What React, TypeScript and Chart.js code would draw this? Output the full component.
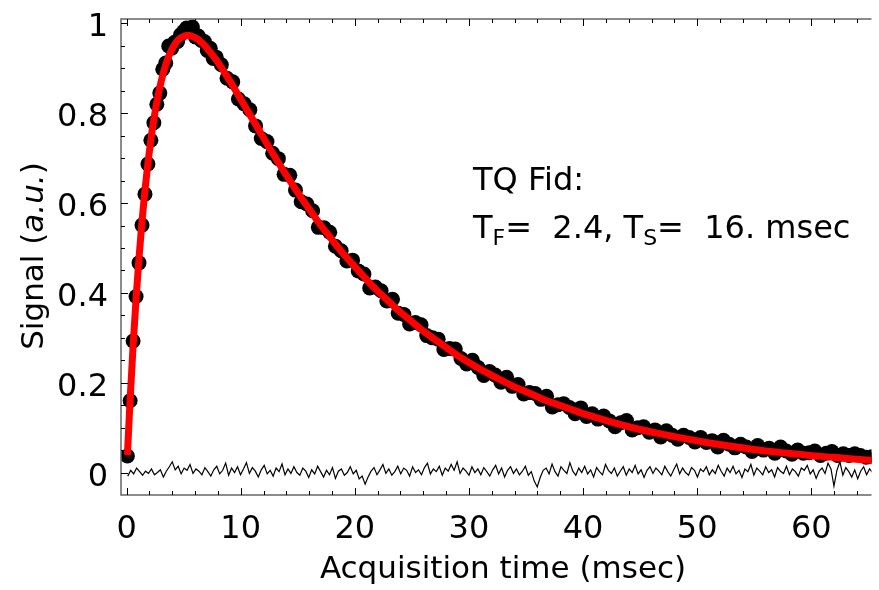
import React, { useEffect, useRef } from "react";
import { Chart, registerables } from "chart.js";

Chart.register(...registerables);

// Measured signal (black dots)
const sigT = [
  0.07, 0.31, 0.57, 0.83, 1.09, 1.35, 1.61, 1.87, 2.13, 2.39, 2.65, 2.91, 3.17, 3.43, 3.69, 3.95,
  4.21, 4.47, 4.73, 4.99, 5.25, 5.51, 5.77, 6.03, 6.29, 6.55, 6.81, 7.07, 7.33, 7.59, 7.85,
  8.3, 8.8, 9.3, 9.8, 10.3, 10.8, 11.3, 11.8, 12.3, 12.8, 13.3, 13.8, 14.3, 14.8, 15.3, 15.8,
  16.3, 16.8, 17.3, 17.8, 18.3, 18.8, 19.3, 19.8, 20.3, 20.8, 21.3, 21.8, 22.3, 22.8, 23.3, 23.8,
  24.3, 24.8, 25.3, 25.8, 26.3, 26.8, 27.3, 27.8, 28.3, 28.8, 29.3, 29.8, 30.3, 30.8, 31.3, 31.8,
  32.3, 32.8, 33.3, 33.8, 34.3, 34.8, 35.3, 35.8, 36.3, 36.8, 37.3, 37.8, 38.3, 38.8, 39.3, 39.8,
  40.3, 40.8, 41.3, 41.8, 42.3, 42.8, 43.3, 43.8, 44.3, 44.8, 45.3, 45.8, 46.3, 46.8, 47.3, 47.8,
  48.3, 48.8, 49.3, 49.8, 50.3, 50.8, 51.3, 51.8, 52.3, 52.8, 53.3, 53.8, 54.3, 54.8, 55.3, 55.8,
  56.3, 56.8, 57.3, 57.8, 58.3, 58.8, 59.3, 59.8, 60.3, 60.8, 61.3, 61.8, 62.3, 62.8, 63.3, 63.8,
  64.3, 64.8, 65.3,
];
const sigV = [
  0.037, 0.16, 0.293, 0.392, 0.467, 0.551, 0.62, 0.687, 0.74, 0.779, 0.82, 0.845, 0.898, 0.912, 0.95, 0.945,
  0.958, 0.96, 0.975, 0.982, 0.99, 0.985, 0.992, 0.97, 0.972, 0.962, 0.96, 0.94, 0.945, 0.922, 0.925,
  0.908, 0.878, 0.87, 0.832, 0.821, 0.808, 0.772, 0.744, 0.737, 0.711, 0.699, 0.664, 0.662, 0.629, 0.603, 0.598,
  0.583, 0.546, 0.545, 0.535, 0.504, 0.494, 0.471, 0.473, 0.449, 0.442, 0.411, 0.413, 0.405, 0.382, 0.386, 0.355,
  0.352, 0.331, 0.334, 0.329, 0.305, 0.3, 0.297, 0.274, 0.276, 0.275, 0.254, 0.242, 0.25, 0.234, 0.216, 0.225,
  0.217, 0.201, 0.212, 0.192, 0.196, 0.175, 0.178, 0.176, 0.163, 0.17, 0.146, 0.151, 0.153, 0.145, 0.131, 0.144,
  0.125, 0.131, 0.119, 0.126, 0.115, 0.102, 0.111, 0.116, 0.095, 0.1, 0.102, 0.09, 0.095, 0.079, 0.093, 0.083,
  0.074, 0.083, 0.078, 0.068, 0.078, 0.067, 0.071, 0.057, 0.072, 0.063, 0.055, 0.063, 0.057, 0.047, 0.06, 0.05,
  0.054, 0.043, 0.057, 0.048, 0.041, 0.05, 0.043, 0.044, 0.048, 0.038, 0.043, 0.047, 0.038, 0.042, 0.038, 0.042,
  0.038, 0.034, 0.035,
];

// Fit curve (red), TF = 2.4 ms, TS = 16 ms
const fitT = [
  0.07, 0.31, 0.57, 0.83, 1.09, 1.35, 1.61, 1.87, 2.13, 2.39, 2.65, 2.91, 3.17, 3.43, 3.69, 3.95,
  4.21, 4.47, 4.73, 4.99, 5.25, 5.51, 5.77, 6.03, 6.29, 6.55, 6.81, 7.07, 7.33, 7.59, 7.85,
  8.8, 9.8, 10.8, 11.8, 12.8, 13.8, 14.8, 15.8, 16.8, 17.8, 18.8, 19.8, 20.8, 21.8, 22.8, 23.8,
  24.8, 25.8, 26.8, 27.8, 28.8, 29.8, 30.8, 31.8, 32.8, 33.8, 34.8, 35.8, 36.8, 37.8, 38.8, 39.8,
  40.8, 42.8, 44.8, 46.8, 48.8, 50.8, 52.8, 54.8, 56.8, 58.8, 60.8, 62.8, 64.8, 65.3,
];
const fitV = [
  0.039, 0.163, 0.282, 0.387, 0.479, 0.559, 0.629, 0.689, 0.742, 0.787, 0.825, 0.858, 0.885, 0.908, 0.927, 0.941,
  0.953, 0.962, 0.968, 0.971, 0.973, 0.973, 0.971, 0.968, 0.964, 0.958, 0.952, 0.944, 0.936, 0.928, 0.919,
  0.882, 0.84, 0.797, 0.754, 0.711, 0.67, 0.631, 0.594, 0.558, 0.525, 0.493, 0.464, 0.436, 0.409, 0.385, 0.361,
  0.34, 0.319, 0.3, 0.282, 0.264, 0.248, 0.233, 0.219, 0.206, 0.193, 0.182, 0.171, 0.16, 0.151, 0.142, 0.133,
  0.125, 0.11, 0.097, 0.086, 0.076, 0.067, 0.059, 0.052, 0.046, 0.041, 0.036, 0.032, 0.028, 0.027,
];

// Noise baseline (thin black line), sampled every noiseStep ms from noiseStart
const noiseStart = 0.1;
const noiseStep = 0.26;
const noiseV = [
  -0.008, 0.005, -0.003, 0.01, 0.002, -0.006, 0.003, -0.002, 0.008, -0.005, 0.0, 0.006,
  -0.01, 0.003, 0.013, 0.024, 0.006, 0.014, -0.003, 0.01, 0.005, 0.018, -0.002, 0.008,
  0.003, -0.005, 0.011, 0.002, -0.008, 0.006, 0.014, -0.003, 0.005, 0.021, -0.006, 0.01,
  0.0, 0.013, -0.005, 0.008, 0.022, -0.002, 0.011, 0.003, -0.01, 0.006, 0.016, -0.003,
  0.005, -0.008, 0.01, 0.002, 0.019, -0.005, 0.008, -0.002, 0.013, 0.0, -0.006, 0.01,
  0.003, -0.011, 0.006, -0.003, 0.014, 0.002, -0.01, 0.005, -0.005, 0.011, -0.013, 0.003,
  0.008, -0.006, 0.0, 0.013, -0.003, 0.005, -0.014, -0.008, -0.026, -0.01, 0.003, 0.011,
  -0.005, 0.006, 0.018, -0.002, 0.008, -0.006, 0.002, 0.014, -0.003, 0.01, 0.005, -0.008,
  0.013, 0.0, 0.006, -0.005, 0.011, 0.021, -0.003, 0.008, 0.002, 0.014, -0.006, 0.01,
  0.003, 0.018, 0.005, 0.024, -0.002, 0.01, 0.003, -0.006, 0.013, 0.0, 0.008, -0.005,
  0.011, 0.002, -0.008, 0.006, 0.016, -0.003, 0.01, -0.01, 0.005, 0.013, -0.002, 0.008,
  -0.005, 0.003, 0.014, -0.006, 0.002, -0.019, -0.032, -0.011, 0.005, 0.01, -0.003, 0.019,
  0.002, -0.008, 0.013, 0.005, -0.002, 0.022, 0.003, -0.006, 0.01, 0.0, 0.014, -0.003,
  0.006, -0.01, 0.011, 0.002, -0.005, 0.018, 0.005, -0.002, 0.01, -0.008, 0.003, 0.013,
  -0.006, 0.008, 0.0, 0.016, -0.003, 0.006, -0.011, 0.005, 0.013, -0.002, 0.01, 0.003,
  -0.005, 0.014, 0.002, -0.008, 0.006, 0.019, -0.003, 0.01, 0.0, -0.006, 0.011, 0.005,
  -0.01, 0.008, 0.002, 0.013, -0.005, 0.006, -0.002, 0.016, 0.003, -0.008, 0.01, 0.0,
  0.014, -0.003, 0.005, -0.011, 0.008, 0.002, 0.018, -0.006, 0.01, 0.003, -0.005, 0.013,
  0.0, 0.006, -0.01, 0.011, 0.003, -0.002, 0.014, -0.005, 0.008, 0.002, -0.008, 0.01,
  0.005, 0.016, -0.003, 0.006, -0.013, 0.003, 0.01, -0.002, 0.021, 0.008, -0.03, 0.005,
  0.024, -0.006, 0.011, 0.002, -0.01, 0.006, -0.014, 0.003, 0.013, -0.005, 0.008, 0.0,
];

// Axis ticks and labels
const xMajorTicks = [0, 10, 20, 30, 40, 50, 60];
const xTickLabels = ["0", "10", "20", "30", "40", "50", "60"];
const xMinorTicks = [2, 4, 6, 8, 12, 14, 16, 18, 22, 24, 26, 28, 32, 34, 36, 38, 42, 44, 46, 48, 52, 54, 56, 58, 62, 64];
const yMajorTicks = [0, 0.2, 0.4, 0.6, 0.8, 1];
const yTickLabels = ["0", "0.2", "0.4", "0.6", "0.8", "1"];
const yMinorTicks = [0.05, 0.1, 0.15, 0.25, 0.3, 0.35, 0.45, 0.5, 0.55, 0.65, 0.7, 0.75, 0.85, 0.9, 0.95];

const FONT = '"DejaVu Sans", "Liberation Sans", Arial, sans-serif';

const framePlugin = {
  id: "framePlugin",
  afterDraw(chart: any) {
    const ctx: CanvasRenderingContext2D = chart.ctx;
    const { left, right, top, bottom } = chart.chartArea;
    const xs = chart.scales.x;
    const ys = chart.scales.y;
    ctx.save();
    // frame
    ctx.strokeStyle = "#666";
    ctx.lineWidth = 1.5;
    ctx.beginPath();
    ctx.moveTo(right, top);
    ctx.lineTo(left, top);
    ctx.lineTo(left, bottom);
    ctx.lineTo(right, bottom);
    ctx.stroke();
    // ticks
    ctx.strokeStyle = "#000";
    ctx.lineWidth = 1;
    const xt = (vals: number[], len: number) => {
      for (const v of vals) {
        const px = Math.round(xs.getPixelForValue(v)) + 0.5;
        ctx.beginPath();
        ctx.moveTo(px, bottom);
        ctx.lineTo(px, bottom - len);
        ctx.moveTo(px, top);
        ctx.lineTo(px, top + len);
        ctx.stroke();
      }
    };
    const yt = (vals: number[], len: number) => {
      for (const v of vals) {
        const py = Math.round(ys.getPixelForValue(v)) + 0.5;
        ctx.beginPath();
        ctx.moveTo(left, py);
        ctx.lineTo(left + len, py);
        ctx.stroke();
      }
    };
    xt(xMajorTicks, 7);
    xt(xMinorTicks, 4);
    yt(yMajorTicks, 7);
    yt(yMinorTicks, 4);

    // tick labels
    ctx.fillStyle = "#000";
    ctx.font = `32px ${FONT}`;
    ctx.textBaseline = "alphabetic";
    ctx.textAlign = "center";
    xMajorTicks.forEach((v, i) => {
      ctx.fillText(xTickLabels[i], xs.getPixelForValue(v), 538);
    });
    ctx.textAlign = "right";
    yMajorTicks.forEach((v, i) => {
      ctx.fillText(yTickLabels[i], 108, ys.getPixelForValue(v) + 13);
    });

    // x axis title
    ctx.textAlign = "center";
    ctx.font = `31px ${FONT}`;
    ctx.fillText("Acquisition time (msec)", 503, 578);

    // y axis title (rotated, with italic part)
    ctx.save();
    ctx.translate(43, 256);
    ctx.rotate(-Math.PI / 2);
    ctx.textAlign = "left";
    const parts: [string, boolean][] = [
      ["Signal (", false],
      ["a.u.", true],
      [")", false],
    ];
    let total = 0;
    for (const [t, it] of parts) {
      ctx.font = `${it ? "italic " : ""}31px ${FONT}`;
      total += ctx.measureText(t).width;
    }
    let cx = -total / 2;
    for (const [t, it] of parts) {
      ctx.font = `${it ? "italic " : ""}31px ${FONT}`;
      ctx.fillText(t, cx, 0);
      cx += ctx.measureText(t).width;
    }
    ctx.restore();

    // annotation
    ctx.textAlign = "left";
    ctx.font = `32px ${FONT}`;
    ctx.fillText("TQ Fid:", 473, 190);
    let ax = 473;
    const ay = 238;
    const seg = (txt: string, sub = false) => {
      ctx.font = sub ? `22px ${FONT}` : `32px ${FONT}`;
      ctx.fillText(txt, ax, sub ? ay + 7 : ay);
      ax += ctx.measureText(txt).width;
    };
    seg("T");
    seg("F", true);
    seg("=  2.4, T");
    seg("S", true);
    seg("=  16. msec");
    ctx.restore();
  },
};

export default function App() {
  const ref = useRef<HTMLCanvasElement | null>(null);
  useEffect(() => {
    if (!ref.current) return;
    const chart = new Chart(ref.current, {
      type: "line",
      data: {
        datasets: [
          {
            label: "fit",
            data: fitT.map((t, i) => ({ x: t, y: fitV[i] })),
            borderColor: "rgb(255,0,0)",
            borderWidth: 7,
            pointRadius: 0,
            cubicInterpolationMode: "monotone",
            fill: false,
            order: 0,
          },
          {
            label: "signal",
            data: sigT.map((t, i) => ({ x: t, y: sigV[i] })),
            showLine: false,
            pointRadius: 7.5,
            pointBackgroundColor: "#000",
            pointBorderWidth: 0,
            borderColor: "#000",
            order: 1,
          },
          {
            label: "noise",
            data: noiseV.map((v, i) => ({ x: noiseStart + i * noiseStep, y: v })),
            borderColor: "#000",
            borderWidth: 1.2,
            pointRadius: 0,
            tension: 0,
            fill: false,
            order: 2,
          },
        ],
      },
      options: {
        animation: false,
        responsive: false,
        events: [],
        layout: { padding: { top: 19, right: 0, left: 0, bottom: 0 } },
        plugins: { legend: { display: false }, tooltip: { enabled: false }, title: { display: false } },
        scales: {
          x: {
            type: "linear",
            min: -0.49,
            max: 65.27,
            grid: { display: false, drawTicks: false },
            border: { display: false },
            ticks: { display: false },
            afterFit(s: any) {
              s.height = 95;
            },
          },
          y: {
            type: "linear",
            min: -0.05,
            max: 1.01,
            grid: { display: false, drawTicks: false },
            border: { display: false },
            ticks: { display: false },
            afterFit(s: any) {
              s.width = 121;
            },
          },
        },
      } as any,
      plugins: [framePlugin],
    });
    return () => chart.destroy();
  }, []);
  return (
    <canvas
      ref={ref}
      width={879}
      height={590}
      style={{ position: "fixed", left: 0, top: 0, width: 879, height: 590, display: "block" }}
    />
  );
}
